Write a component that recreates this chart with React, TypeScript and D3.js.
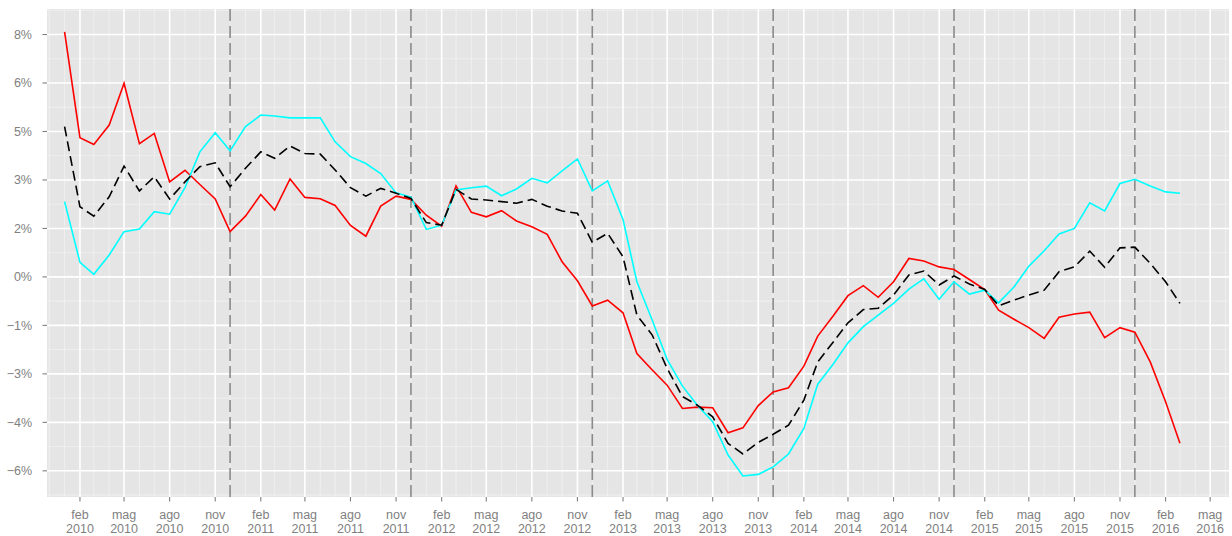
import React from "react";
import * as d3 from "d3";

// monthly series, Jan 2010 – Mar 2016 (values in axis units)
const redSeries = [
  8.08, 4.81, 4.6, 5.2, 6.49, 4.62, 4.94, 3.44, 3.8, 3.36, 2.91, 1.9,
  2.38, 3.05, 2.57, 3.53, 2.96, 2.92, 2.71, 2.09, 1.76, 2.69, 3.0, 2.9,
  2.41, 2.07, 3.32, 2.5, 2.36, 2.55, 2.23, 2.05, 1.82, 0.97, 0.38, -0.4,
  -0.22, -0.61, -1.87, -2.38, -2.85, -3.57, -3.53, -3.55, -4.32, -4.17, -3.48, -3.06,
  -2.93, -2.26, -1.33, -0.71, -0.08, 0.23, -0.13, 0.35, 1.07, 0.99, 0.81, 0.73,
  0.42, 0.11, -0.53, -0.81, -1.07, -1.4, -0.75, -0.65, -0.59, -1.38, -1.07, -1.21,
  -2.13, -3.36, -4.65,
];

const blackSeries = [
  5.15, 2.67, 2.38, 2.98, 3.93, 3.16, 3.6, 2.91, 3.44, 3.91, 4.03, 3.29,
  3.86, 4.37, 4.17, 4.55, 4.32, 4.3, 3.81, 3.26, 3.0, 3.24, 3.09, 2.93,
  2.18, 2.1, 3.21, 2.91, 2.88, 2.83, 2.78, 2.9, 2.69, 2.54, 2.47, 1.57,
  1.85, 1.12, -0.68, -1.3, -2.33, -3.2, -3.47, -3.83, -4.65, -4.98, -4.62, -4.37,
  -4.09, -3.31, -2.13, -1.52, -0.92, -0.51, -0.47, -0.06, 0.56, 0.68, 0.25, 0.53,
  0.28, 0.11, -0.39, -0.22, -0.06, 0.09, 0.66, 0.81, 1.3, 0.8, 1.4, 1.42,
  0.92, 0.35, -0.32,
];

const cyanSeries = [
  2.83, 0.95, 0.58, 1.18, 1.9, 1.98, 2.52, 2.44, 3.26, 4.37, 4.96, 4.4,
  5.15, 5.51, 5.48, 5.42, 5.42, 5.42, 4.68, 4.22, 4.01, 3.7, 3.1, 2.97,
  1.97, 2.1, 3.19, 3.26, 3.31, 3.01, 3.22, 3.55, 3.41, 3.78, 4.15, 3.16,
  3.47, 2.28, 0.35, -0.84, -2.05, -2.88, -3.47, -3.98, -5.01, -5.66, -5.61, -5.38,
  -4.98, -4.19, -2.82, -2.2, -1.54, -1.04, -0.68, -0.32, 0.12, 0.44, -0.19, 0.35,
  -0.03, 0.09, -0.3, 0.19, 0.83, 1.31, 1.83, 2.0, 2.79, 2.54, 3.39, 3.52,
  3.31, 3.13, 3.09,
];

const yTickValues = [8, 6.5, 5, 3.5, 2, 0.5, -1, -2.5, -4, -5.5];
const yTickLabels = ["8%", "6%", "5%", "3%", "2%", "0%", "\u22121%", "\u22123%", "\u22124%", "\u22126%"];
const yMinorValues = [8.75, 7.25, 5.75, 4.25, 2.75, 1.25, -0.25, -1.75, -3.25, -4.75, -6.25];

const monthNames = ["gen", "feb", "mar", "apr", "mag", "giu", "lug", "ago", "set", "ott", "nov", "dic"];

const breakDates = [
  new Date(2010, 11, 1),
  new Date(2011, 11, 1),
  new Date(2012, 11, 1),
  new Date(2013, 11, 1),
  new Date(2014, 11, 1),
  new Date(2015, 11, 1),
];

const width = 1232;
const height = 536;
const panel = { left: 47, right: 1229, top: 9, bottom: 497 };

const months = d3.timeMonth.range(new Date(2010, 0, 1), new Date(2016, 3, 1));

const App = () => {
  const x = d3
    .scaleTime()
    .domain([new Date(2009, 10, 26, 12), new Date(2016, 5, 8)])
    .range([panel.left, panel.right]);

  const y = d3.scaleLinear().domain([-6.31, 8.79]).range([panel.bottom, panel.top]);

  const allMonths = d3.timeMonth.range(x.domain()[0], x.domain()[1]);
  const majorMonths = allMonths.filter((d) => d.getMonth() % 3 === 1);
  const minorMonths = allMonths.filter((d) => d.getMonth() % 3 !== 1);

  const line = (vals: number[]) =>
    d3
      .line<number>()
      .x((_, i) => x(months[i]))
      .y((d) => y(d))(vals) || "";

  const textColor = "#7F7F7F";

  return (
    <svg
      width={width}
      height={height}
      style={{ position: "absolute", left: 0, top: 0, fontFamily: "'Liberation Sans', Arial, sans-serif" }}
    >
      <rect x={0} y={0} width={width} height={height} fill="white" />
      <rect
        x={panel.left}
        y={panel.top}
        width={panel.right - panel.left}
        height={panel.bottom - panel.top}
        fill="#E5E5E5"
      />
      {/* minor grid */}
      {yMinorValues.map((v) => (
        <line key={"ym" + v} x1={panel.left} x2={panel.right} y1={y(v)} y2={y(v)} stroke="#F2F2F2" strokeWidth={0.8} />
      ))}
      {minorMonths.map((d) => (
        <line key={"xm" + d.getTime()} x1={x(d)} x2={x(d)} y1={panel.top} y2={panel.bottom} stroke="#F2F2F2" strokeWidth={0.8} />
      ))}
      {/* major grid */}
      {yTickValues.map((v) => (
        <line key={"yM" + v} x1={panel.left} x2={panel.right} y1={y(v)} y2={y(v)} stroke="white" strokeWidth={1.6} />
      ))}
      {majorMonths.map((d) => (
        <line key={"xM" + d.getTime()} x1={x(d)} x2={x(d)} y1={panel.top} y2={panel.bottom} stroke="white" strokeWidth={1.6} />
      ))}
      {/* year break lines */}
      {breakDates.map((d) => (
        <line
          key={"b" + d.getTime()}
          x1={x(d)}
          x2={x(d)}
          y1={panel.top}
          y2={panel.bottom}
          stroke="#8A8A8A"
          strokeWidth={1.6}
          strokeDasharray="12,5"
        />
      ))}
      <path d={line(redSeries)} fill="none" stroke="#FF0000" strokeWidth={1.6} />
      <path d={line(cyanSeries)} fill="none" stroke="#00FFFF" strokeWidth={1.6} />
      <path d={line(blackSeries)} fill="none" stroke="#000000" strokeWidth={1.6} strokeDasharray="10,5" />
      {/* y axis */}
      {yTickValues.map((v, i) => (
        <g key={"yt" + v}>
          <line x1={panel.left - 4.5} x2={panel.left} y1={y(v)} y2={y(v)} stroke={textColor} strokeWidth={1.1} />
          <text x={panel.left - 15} y={y(v)} dy="0.35em" textAnchor="end" fontSize={12.5} fill={textColor}>
            {yTickLabels[i]}
          </text>
        </g>
      ))}
      {/* x axis */}
      {majorMonths.map((d) => (
        <g key={"xt" + d.getTime()}>
          <line x1={x(d)} x2={x(d)} y1={panel.bottom} y2={panel.bottom + 4.5} stroke={textColor} strokeWidth={1.1} />
          <text x={x(d)} y={519} textAnchor="middle" fontSize={12.5} fill={textColor}>
            {monthNames[d.getMonth()]}
          </text>
          <text x={x(d)} y={532.5} textAnchor="middle" fontSize={12.5} fill={textColor}>
            {d.getFullYear()}
          </text>
        </g>
      ))}
    </svg>
  );
};

export default App;
